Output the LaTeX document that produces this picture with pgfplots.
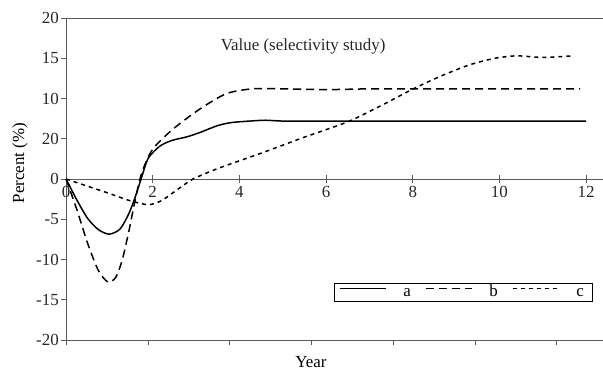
\documentclass[border=0pt]{standalone}
\usepackage{pgfplots}
\pgfplotsset{compat=1.18}
\usepackage{fontspec}
\setmainfont{Liberation Serif}
\definecolor{axgray}{RGB}{90,90,90}
\newcommand{\fs}{\fontsize{17}{19}\selectfont}
\begin{document}
\begin{tikzpicture}[font=\fs]
\pgfplotsset{every axis/.append style={font=\fs},
  tick label style={font=\fs},
  label style={font=\fs}}
% frame axis with the bottom and left lines
\begin{axis}[name=frame,
  scale only axis, width=537bp, height=322bp,
  xmin=0, xmax=12.39, ymin=-20, ymax=20,
  axis x line*=bottom, axis y line*=left,
  axis line style={axgray, line width=0.8pt, -},
  xtick={0,1.892,3.78,5.67,7.56,9.44,11.31},
  xticklabels={},
  ytick={-20,-15,-10,-5,0,5,10,15,20},
  yticklabels={-20,-15,-10,-5,0,20,10,15,20},
  tick align=outside, major tick length=5bp,
  tick style={axgray, line width=0.8pt},
  yticklabel style={text=black!85, inner xsep=2bp},
  ylabel={Percent (\%)},
  xlabel={Year},
  every axis y label/.style={at={(rel axis cs:0,0.55)}, xshift=-46bp, rotate=90, anchor=center},
  every axis x label/.style={at={(rel axis cs:0.456,0)}, yshift=-22bp, anchor=center},
]
\draw[axgray, line width=0.8pt] (rel axis cs:0,1) -- (rel axis cs:1,1);
\end{axis}
% data axis
\begin{axis}[
  scale only axis, width=537bp, height=322bp,
  xmin=0, xmax=12.39, ymin=-20, ymax=20,
  axis x line=middle, axis y line=none,
  x axis line style={-, axgray, line width=0.8pt},
  xtick={0,2,4,6,8,10,12}, ytick=\empty,
  hide obscured x ticks=false,
  major tick length=8bp,
  tick style={axgray, line width=0.8pt},
  xticklabel style={text=black!85, yshift=0bp},
  /pgf/number format/assume math mode=true,
  legend style={draw=black, line width=0.6pt, at={(0.98,0.118)}, anchor=south east,
    legend columns=3, inner ysep=1bp, inner xsep=5bp,
    font=\fs,
    nodes={inner xsep=3bp, inner ysep=2.5bp, text height=9bp, text depth=2bp},
    /tikz/every odd column/.append style={column sep=14bp},
    /tikz/every even column/.append style={column sep=11bp}},
  legend image code/.code={\draw[#1] (0bp,4bp) -- (46bp,4bp);},
  clip=false,
]
\addplot[black, line width=1.5pt, smooth, tension=0.45] coordinates {
(0,0) (0.25,-2.6) (0.5,-4.9) (0.75,-6.3) (1.0,-6.85) (1.25,-6.2) (1.45,-4.3)
(1.6,-2.2) (1.75,0.3) (1.9,2.6) (2.17,4.1) (2.45,4.8) (2.8,5.25) (3.1,5.8)
(3.48,6.6) (3.8,7.0) (4.25,7.2) (4.6,7.3) (5,7.2) (6,7.2) (8,7.2) (10,7.2) (12,7.2)};
\addlegendentry{a}
\addplot[black, line width=1.5pt, smooth, tension=0.45, dash pattern=on 8bp off 5bp] coordinates {
(0,0) (0.25,-3.8) (0.5,-8.0) (0.75,-11.4) (0.97,-12.8) (1.15,-12.2) (1.3,-10)
(1.45,-6.5) (1.6,-2.5) (1.75,0.8) (2.0,3.7) (2.47,6.2) (3.09,8.7) (3.7,10.6)
(4.3,11.2) (5,11.2) (6,11.1) (7,11.2) (8,11.2) (10,11.2) (11.86,11.2)};
\addlegendentry{b}
\addplot[black, line width=1.5pt, smooth, tension=0.4, dash pattern=on 4bp off 4bp] coordinates {
(0,0) (0.5,-0.9) (1,-1.8) (1.48,-2.7) (1.9,-3.2) (2.2,-2.7) (2.6,-1.2) (2.93,0)
(3.5,1.3) (4.55,3.3) (5.5,5.2) (6.5,7.1) (7.3,9.2) (8.05,11.3) (8.7,12.9)
(9.32,14.2) (9.9,15.0) (10.4,15.3) (11.0,15.1) (11.7,15.3)};
\addlegendentry{c}
\node[text=black!85] at (axis cs:5.47,16.5) {Value (selectivity study)};
\end{axis}
\pgfresetboundingbox
\path[use as bounding box] ([xshift=-66bp,yshift=-31bp]frame.south west) rectangle ([yshift=18bp]frame.north east);
\end{tikzpicture}
\end{document}
